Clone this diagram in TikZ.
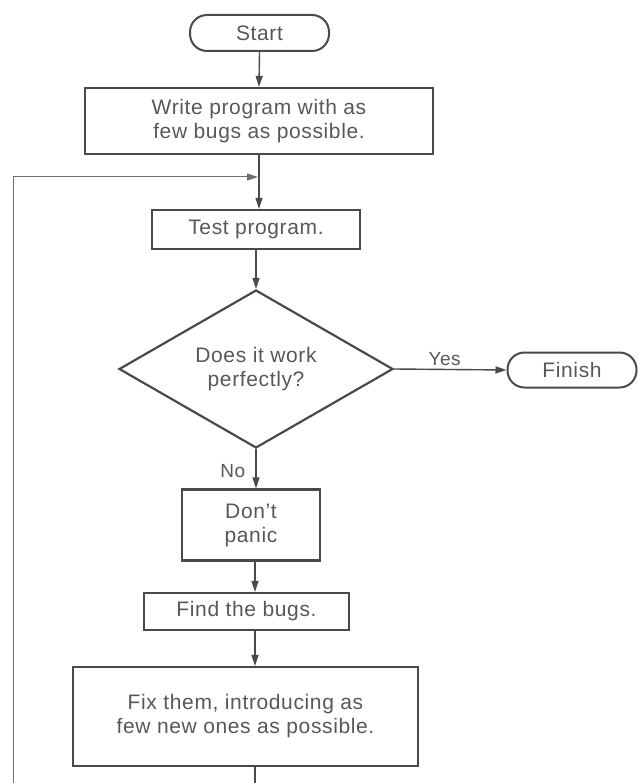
\documentclass[tikz,border=0pt]{standalone}
\usepackage{fontspec}
\setmainfont{Liberation Sans}[LetterSpace=3]
\usetikzlibrary{arrows.meta,shapes.geometric}
\definecolor{ink}{HTML}{4A4A4A}
\definecolor{txt}{HTML}{585858}
\begin{document}
\begin{tikzpicture}[x=1pt,y=-1pt,
  every node/.style={font=\fontsize{21}{24}\selectfont, text=txt, align=center, inner sep=0pt},
  box/.style={draw=ink, line width=2.2pt, rectangle},
  term/.style={draw=ink, line width=2pt, rectangle, rounded corners=17pt},
  dec/.style={draw=ink, line width=2.2pt, diamond, aspect=1.734},
  arr/.style={draw=ink, line width=1.4pt, -{Triangle[length=11pt,width=7pt]}},
  plain/.style={draw=ink, line width=1.4pt},
  back/.style={draw=ink!80, line width=1pt, -{Triangle[length=11pt,width=7pt]}},
  lbl/.style={font=\fontsize{19}{22}\selectfont}]
\useasboundingbox (0,0) rectangle (638,783);
\fill[white] (0,0) rectangle (638,783);

\node[term, minimum width=139pt, minimum height=36pt] (start) at (259.5,33) {Start};
\node[box, minimum width=348pt, minimum height=66pt] (write) at (259,121) {Write program with as\\few bugs as possible.};
\node[box, minimum width=208pt, minimum height=39pt] (test) at (256,229.5) {Test program.};
\node[dec, minimum width=274pt, minimum height=158pt] (dia) at (256,369) {Does it work\\perfectly?};
\node[term, minimum width=129pt, minimum height=35pt] (finish) at (572,370) {Finish};
\node[box, minimum width=138pt, minimum height=71pt] (dont) at (251,525) {Don't\\panic};
\node[box, minimum width=205pt, minimum height=37pt] (find) at (246.5,611.5) {Find the bugs.};
\node[box, minimum width=345pt, minimum height=99pt] (fix) at (245.5,716.5) {Fix them, introducing as\\few new ones as possible.};

\coordinate (axis) at (255,0);
\coordinate (loopin) at (258,177);
\coordinate (loopbot) at (13,783);
\coordinate (fixend) at (255,783);

\draw[arr] (start.south) -- (write.north);
\draw[arr] (write.south) -- (write.south |- test.north);
\draw[back] (loopbot) |- (loopin);
\draw[arr] (test.south) -- (dia.north);
\draw[arr] (dia.east) -- node[lbl, above=3pt, pos=0.45] {Yes} (finish.west);
\draw[arr] (dia.south) -- node[lbl, left=10pt, pos=0.55] {No} (dia.south |- dont.north);
\draw[arr] (dont.south -| axis) -- (find.north -| axis);
\draw[arr] (find.south -| axis) -- (fix.north -| axis);
\draw[plain] (fix.south -| axis) -- (fixend);
\end{tikzpicture}
\end{document}
